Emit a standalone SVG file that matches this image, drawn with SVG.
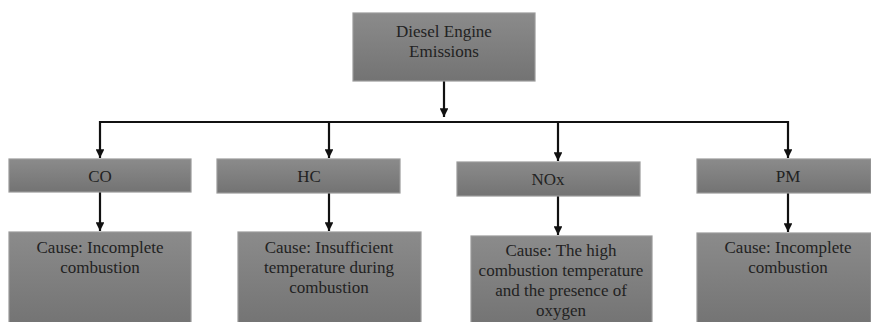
<svg xmlns="http://www.w3.org/2000/svg" width="871" height="322" viewBox="0 0 871 322">
<defs>
<linearGradient id="g" x1="0" y1="0" x2="0" y2="1">
<stop offset="0" stop-color="#8b8b8b"/>
<stop offset="1" stop-color="#737373"/>
</linearGradient>
<marker id="ah" viewBox="0 0 10 10" refX="10" refY="5" markerWidth="4" markerHeight="4" orient="auto" markerUnits="strokeWidth">
<path d="M0,0 L10,5 L0,10 z" fill="#111"/>
</marker>
<style>
.box{fill:url(#g);stroke:#9a9a9a;stroke-width:1.2}
.t{font-family:"Liberation Serif","Times New Roman",serif;font-size:17px;fill:#222;text-anchor:middle}
.c{fill:none;stroke:#111;stroke-width:2.2}
</style>
</defs>
<rect width="871" height="322" fill="#fff"/>
<g id="connectors">
<path class="c" d="M444,81 V117" marker-end="url(#ah)"/>
<path class="c" d="M100,122 H788"/>
<path class="c" d="M100,121 V158" marker-end="url(#ah)"/>
<path class="c" d="M329,122 V158" marker-end="url(#ah)"/>
<path class="c" d="M558,122 V161" marker-end="url(#ah)"/>
<path class="c" d="M788,121 V158" marker-end="url(#ah)"/>
<path class="c" d="M100,192 V231" marker-end="url(#ah)"/>
<path class="c" d="M329,193 V231" marker-end="url(#ah)"/>
<path class="c" d="M558,196 V235" marker-end="url(#ah)"/>
<path class="c" d="M788,193 V232" marker-end="url(#ah)"/>
</g>
<g id="root">
<rect class="box" x="353" y="13" width="182" height="68"/>
<text class="t" x="444" y="37">Diesel Engine</text>
<text class="t" x="444" y="57">Emissions</text>
</g>
<g id="co">
<rect class="box" x="9" y="159" width="182" height="33"/>
<text class="t" x="100" y="182">CO</text>
</g>
<g id="hc">
<rect class="box" x="217" y="159" width="183" height="34"/>
<text class="t" x="309" y="182">HC</text>
</g>
<g id="nox">
<rect class="box" x="457" y="162" width="183" height="34"/>
<text class="t" x="548" y="185">NOx</text>
</g>
<g id="pm">
<rect class="box" x="697" y="159" width="174" height="34"/>
<text class="t" x="788" y="182">PM</text>
</g>
<g id="co-cause">
<rect class="box" x="9" y="232" width="182" height="95"/>
<text class="t" x="100" y="253">Cause: Incomplete</text>
<text class="t" x="100" y="273">combustion</text>
</g>
<g id="hc-cause">
<rect class="box" x="238" y="232" width="183" height="95"/>
<text class="t" x="329" y="253">Cause: Insufficient</text>
<text class="t" x="329" y="273">temperature during</text>
<text class="t" x="329" y="293">combustion</text>
</g>
<g id="nox-cause">
<rect class="box" x="471" y="236" width="181" height="91"/>
<text class="t" x="561" y="256">Cause: The high</text>
<text class="t" x="561" y="276">combustion temperature</text>
<text class="t" x="561" y="296">and the presence of</text>
<text class="t" x="561" y="316">oxygen</text>
</g>
<g id="pm-cause">
<rect class="box" x="697" y="233" width="174" height="94"/>
<text class="t" x="788" y="253">Cause: Incomplete</text>
<text class="t" x="788" y="273">combustion</text>
</g>
</svg>
